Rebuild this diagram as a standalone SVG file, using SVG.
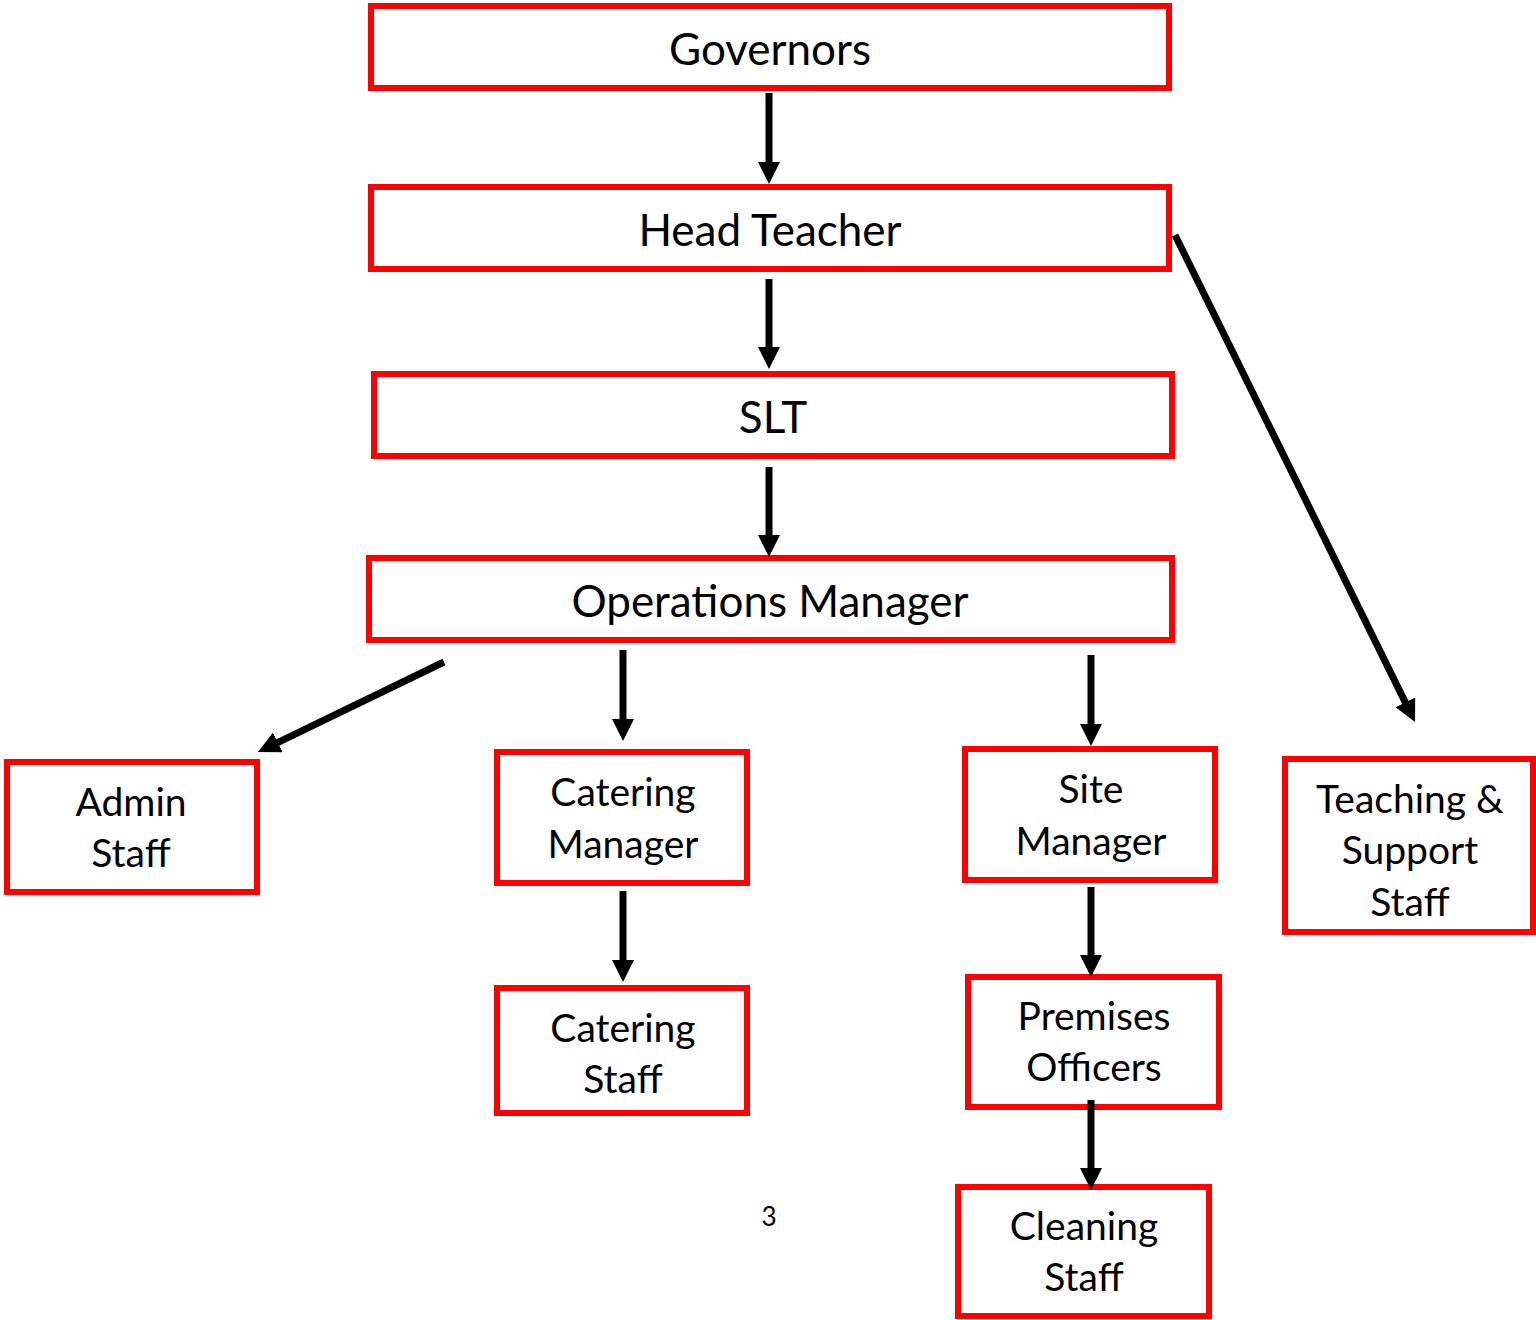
<svg xmlns="http://www.w3.org/2000/svg" width="1536" height="1320" viewBox="0 0 1536 1320">
<style>
.box{fill:#fff;stroke:#ff0000;stroke-width:6}
.lbl{font-family:Lato,"Liberation Sans",sans-serif;font-size:39px;fill:#000;text-anchor:middle}
.big{font-size:44px}
.conn{stroke:#000;stroke-width:7;fill:none;marker-end:url(#ah)}
</style>
<defs>
<marker id="ah" markerUnits="userSpaceOnUse" viewBox="0 0 22 22" markerWidth="22" markerHeight="22" refX="2" refY="11" orient="auto">
<path d="M0,0 L22,11 L0,22 z" fill="#000"/>
</marker>
</defs>
<rect width="1536" height="1320" fill="#fff"/>
<g id="governors"><rect class="box" x="371" y="6" width="798" height="82"/><text class="lbl big" x="770" y="65">Governors</text></g>
<g id="head-teacher"><rect class="box" x="371" y="187" width="798" height="82"/><text class="lbl big" x="770" y="246">Head Teacher</text></g>
<g id="slt"><rect class="box" x="374" y="374" width="798" height="82"/><text class="lbl big" x="773" y="433">SLT</text></g>
<g id="operations-manager"><rect class="box" x="369" y="558" width="803" height="82"/><text class="lbl big" x="770" y="617">Operations Manager</text></g>
<g id="admin-staff"><rect class="box" x="7" y="762" width="250" height="130"/><text class="lbl" x="131" y="816">Admin</text><text class="lbl" x="131" y="867">Staff</text></g>
<g id="catering-manager"><rect class="box" x="497" y="752" width="250" height="131"/><text class="lbl" x="623" y="806">Catering</text><text class="lbl" x="623" y="858">Manager</text></g>
<g id="catering-staff"><rect class="box" x="497" y="988" width="250" height="125"/><text class="lbl" x="623" y="1042">Catering</text><text class="lbl" x="623" y="1093">Staff</text></g>
<g id="site-manager"><rect class="box" x="965" y="749" width="250" height="131"/><text class="lbl" x="1091" y="803">Site</text><text class="lbl" x="1091" y="855">Manager</text></g>
<g id="premises-officers"><rect class="box" x="968" y="977" width="251" height="130"/><text class="lbl" x="1094" y="1030">Premises</text><text class="lbl" x="1094" y="1081">Officers</text></g>
<g id="cleaning-staff"><rect class="box" x="958" y="1187" width="251" height="129"/><text class="lbl" x="1084" y="1240">Cleaning</text><text class="lbl" x="1084" y="1291">Staff</text></g>
<g id="teaching-support-staff"><rect class="box" x="1285" y="759" width="248" height="173"/><text class="lbl" x="1410" y="813">Teaching &amp;</text><text class="lbl" x="1410" y="864">Support</text><text class="lbl" x="1410" y="916">Staff</text></g>
<text x="769" y="1226" font-family="Lato,'Liberation Sans',sans-serif" font-size="26" text-anchor="middle">3</text>
<g id="connectors">
<line class="conn" x1="769" y1="93" x2="769" y2="164"/>
<line class="conn" x1="769" y1="279" x2="769" y2="349"/>
<line class="conn" x1="769" y1="467" x2="769" y2="537"/>
<line class="conn" x1="444" y1="662" x2="276" y2="743.3"/>
<line class="conn" x1="623" y1="650" x2="623" y2="721"/>
<line class="conn" x1="1091" y1="655" x2="1091" y2="726"/>
<line class="conn" x1="1175" y1="235" x2="1406.2" y2="704.1"/>
<line class="conn" x1="623" y1="891" x2="623" y2="962"/>
<line class="conn" x1="1091" y1="887" x2="1091" y2="957"/>
<line class="conn" x1="1091" y1="1100" x2="1091" y2="1170"/>
</g>
</svg>
